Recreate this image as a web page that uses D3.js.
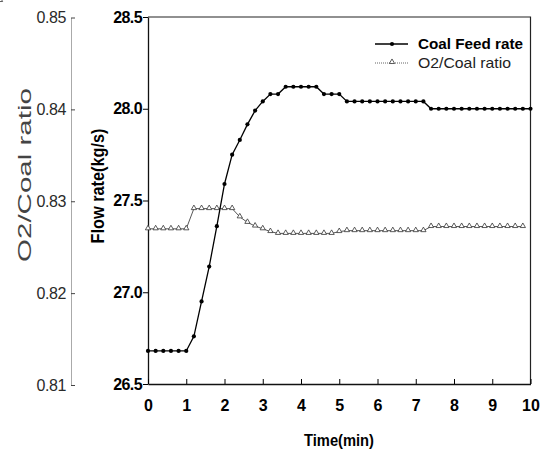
<!DOCTYPE html>
<html>
<head>
  <script src="https://d3js.org/d3.v7.min.js"></script>
  <style>
    body { margin: 0; background: #fff; }
    svg { display: block; background: #fff; font-family: 'Liberation Sans', Arial, sans-serif; }
  </style>
</head>
<body>
  <svg width="552" height="451"></svg>
<script>
  // time in minutes, one sample every 0.2 min
  var time = [0, 0.2, 0.4, 0.6, 0.8, 1.0, 1.2, 1.4, 1.6, 1.8, 2.0, 2.2, 2.4, 2.6, 2.8, 3.0, 3.2, 3.4, 3.6, 3.8,
    4.0, 4.2, 4.4, 4.6, 4.8, 5.0, 5.2, 5.4, 5.6, 5.8, 6.0, 6.2, 6.4, 6.6, 6.8, 7.0, 7.2, 7.4, 7.6, 7.8,
    8.0, 8.2, 8.4, 8.6, 8.8, 9.0, 9.2, 9.4, 9.6, 9.8, 10.0];

  // Coal feed rate (kg/s)
  var coalFeed = [26.68, 26.68, 26.68, 26.68, 26.68, 26.68, 26.76, 26.95, 27.14, 27.36, 27.59, 27.75, 27.83,
    27.915, 27.99, 28.04, 28.08, 28.08, 28.12, 28.12, 28.12, 28.12, 28.12, 28.08, 28.08, 28.08,
    28.04, 28.04, 28.04, 28.04, 28.04, 28.04, 28.04, 28.04, 28.04, 28.04, 28.04,
    28.0, 28.0, 28.0, 28.0, 28.0, 28.0, 28.0, 28.0, 28.0, 28.0, 28.0, 28.0, 28.0, 28.0];

  // O2/Coal ratio
  var o2Ratio = [0.8270, 0.8270, 0.8270, 0.8270, 0.8270, 0.8270, 0.8292, 0.8292, 0.8292, 0.8292, 0.8292, 0.8292,
    0.8283, 0.8277, 0.8273, 0.8270, 0.8267, 0.8265, 0.8265, 0.8265, 0.8265, 0.8265, 0.8265, 0.8265, 0.8265,
    0.8267, 0.8268, 0.8268, 0.8268, 0.8268, 0.8268, 0.8268, 0.8268, 0.8268, 0.8268, 0.8268, 0.8268,
    0.82725, 0.82725, 0.82725, 0.82725, 0.82725, 0.82725, 0.82725, 0.82725, 0.82725, 0.82725, 0.82725, 0.82725, 0.82725];

  var timeTicks = [0, 1, 2, 3, 4, 5, 6, 7, 8, 9, 10];
  var flowTicks = [26.5, 27.0, 27.5, 28.0, 28.5];
  var ratioTicks = [0.81, 0.82, 0.83, 0.84, 0.85];
  var legendNames = ["Coal Feed rate", "O2/Coal ratio"];

  var svg = d3.select("svg");
  var pLeft = 148, pRight = 530.5, pTop = 17, pBottom = 384;

  var x = d3.scaleLinear().domain([0, 10]).range([pLeft, pRight]);
  var yFlow = d3.scaleLinear().domain([26.5, 28.5]).range([pBottom, pTop]);
  var yRatio = d3.scaleLinear().domain([0.81, 0.85]).range([pBottom + 1, pTop + 0.5]);

  // frame: top and right border
  svg.append("path")
    .attr("d", "M" + pLeft + "," + pTop + "H" + pRight + "V" + pBottom)
    .attr("fill", "none").attr("stroke", "#222").attr("stroke-width", 1.2);

  // left outer axis (O2/Coal ratio), dotted
  var gRatio = svg.append("g").attr("transform", "translate(71,0)")
    .call(d3.axisLeft(yRatio).tickValues(ratioTicks).tickFormat(d3.format(".2f"))
      .tickSize(-4).tickSizeOuter(0).tickPadding(5));
  gRatio.select(".domain").attr("stroke", "#555").attr("stroke-dasharray", "1,1");
  gRatio.selectAll(".tick line").attr("stroke", "#444");
  gRatio.selectAll("text").attr("font-size", 16).attr("fill", "#2a2a2a")
    .attr("letter-spacing", "-0.4px")
    .attr("font-family", "'Liberation Sans', Arial, sans-serif");

  // flow rate axis
  var gFlow = svg.append("g").attr("transform", "translate(" + pLeft + ",0)")
    .call(d3.axisLeft(yFlow).tickValues(flowTicks).tickFormat(d3.format(".1f"))
      .tickSize(5).tickSizeOuter(0).tickPadding(1));
  gFlow.select(".domain").attr("stroke", "#111").attr("stroke-width", 1.3);
  gFlow.selectAll("text").attr("font-size", 16).attr("font-weight", "bold").attr("fill", "#000")
    .attr("letter-spacing", "-0.6px")
    .attr("font-family", "'Liberation Sans', Arial, sans-serif");

  // time axis
  var gTime = svg.append("g").attr("transform", "translate(0," + pBottom + ")")
    .call(d3.axisBottom(x).tickValues(timeTicks).tickFormat(d3.format("d"))
      .tickSize(-5).tickSizeOuter(0).tickPadding(16));
  gTime.select(".domain").attr("stroke", "#111").attr("stroke-width", 1.3);
  gTime.selectAll("text").attr("font-size", 16).attr("font-weight", "bold").attr("fill", "#000")
    .attr("font-family", "'Liberation Sans', Arial, sans-serif");

  // axis titles
  svg.append("text")
    .attr("transform", "translate(31,175) rotate(-90)")
    .attr("text-anchor", "middle")
    .attr("font-size", 19).attr("fill", "#444")
    .attr("textLength", 174).attr("lengthAdjust", "spacingAndGlyphs")
    .text("O2/Coal ratio");

  svg.append("text")
    .attr("transform", "translate(104,186) rotate(-90)")
    .attr("text-anchor", "middle")
    .attr("font-size", 19).attr("font-weight", "bold").attr("fill", "#000")
    .attr("textLength", 115).attr("lengthAdjust", "spacingAndGlyphs")
    .text("Flow rate(kg/s)");

  svg.append("text")
    .attr("x", 339).attr("y", 446)
    .attr("text-anchor", "middle")
    .attr("font-size", 16).attr("font-weight", "bold").attr("fill", "#000")
    .attr("textLength", 70).attr("lengthAdjust", "spacingAndGlyphs")
    .text("Time(min)");

  // series
  var coalData = time.map(function (t, i) { return { t: t, v: coalFeed[i] }; });
  var ratioData = time.map(function (t, i) { return { t: t, v: o2Ratio[i] }; });

  var ratioLine = d3.line().x(function (d) { return x(d.t); }).y(function (d) { return yRatio(d.v); });
  var coalLine = d3.line().x(function (d) { return x(d.t); }).y(function (d) { return yFlow(d.v); });

  svg.append("path").datum(ratioData)
    .attr("d", ratioLine).attr("fill", "none").attr("stroke", "#444").attr("stroke-width", 0.9);

  var tri = d3.symbol().type(d3.symbolTriangle).size(12);
  svg.append("g").selectAll("path").data(ratioData).enter().append("path")
    .attr("d", tri)
    .attr("transform", function (d) { return "translate(" + x(d.t) + "," + (yRatio(d.v) - 0.5) + ")"; })
    .attr("fill", "#fff").attr("stroke", "#333").attr("stroke-width", 0.8);

  svg.append("path").datum(coalData)
    .attr("d", coalLine).attr("fill", "none").attr("stroke", "#000").attr("stroke-width", 1.3);

  svg.append("g").selectAll("circle").data(coalData).enter().append("circle")
    .attr("cx", function (d) { return x(d.t); })
    .attr("cy", function (d) { return yFlow(d.v); })
    .attr("r", 2.1).attr("fill", "#000");

  // legend
  var lg = svg.append("g");
  lg.append("line").attr("x1", 375).attr("x2", 408).attr("y1", 44).attr("y2", 44)
    .attr("stroke", "#000").attr("stroke-width", 1.3);
  lg.append("circle").attr("cx", 392).attr("cy", 44).attr("r", 2.1).attr("fill", "#000");
  lg.append("text").attr("x", 418).attr("y", 49)
    .attr("font-size", 15).attr("font-weight", "bold").attr("fill", "#000")
    .attr("textLength", 105).attr("lengthAdjust", "spacingAndGlyphs")
    .text(legendNames[0]);

  lg.append("line").attr("x1", 375).attr("x2", 408).attr("y1", 63).attr("y2", 63)
    .attr("stroke", "#555").attr("stroke-width", 0.9).attr("stroke-dasharray", "1,1");
  lg.append("path").attr("d", tri).attr("transform", "translate(392,62)")
    .attr("fill", "#fff").attr("stroke", "#333").attr("stroke-width", 0.8);
  lg.append("text").attr("x", 418).attr("y", 68)
    .attr("font-size", 15).attr("fill", "#222")
    .attr("textLength", 93).attr("lengthAdjust", "spacingAndGlyphs")
    .text(legendNames[1]);
</script>
</body>
</html>
